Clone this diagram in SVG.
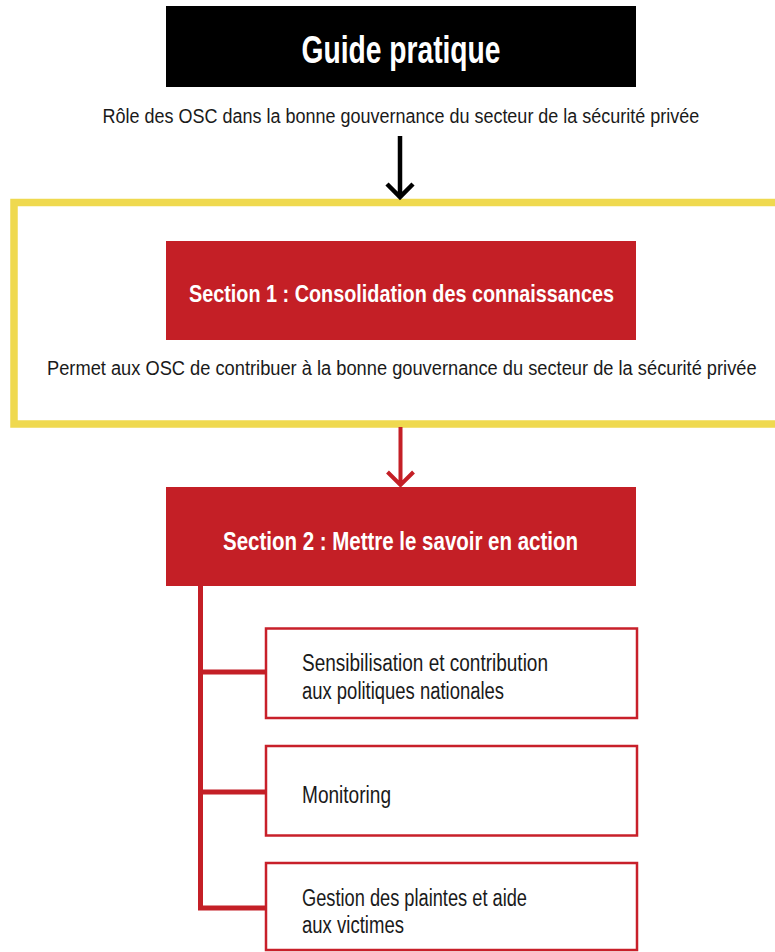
<svg xmlns="http://www.w3.org/2000/svg" width="775" height="952" viewBox="0 0 775 952">
<style>
.t{font-family:"Liberation Sans",Arial,sans-serif;fill:#1a1a1a;}
.b{font-family:"Liberation Sans",Arial,sans-serif;font-weight:bold;fill:#ffffff;}
.red{fill:#C41F26;}
.item{fill:#ffffff;stroke:#C8202A;stroke-width:2.5;}
.conn{fill:none;stroke:#C41F26;stroke-width:5;}
</style>
<rect width="775" height="952" fill="#ffffff"/>
<g id="guide">
<rect x="166" y="6" width="470" height="81" fill="#000000"/>
<text class="b" x="301.5" y="63" font-size="38" textLength="199" lengthAdjust="spacingAndGlyphs">Guide pratique</text>
</g>
<g id="subtitle">
<text class="t" transform="translate(102.5,123) scale(0.8,1)" x="0" y="0" font-size="21" textLength="746" lengthAdjust="spacingAndGlyphs">Rôle des OSC dans la bonne gouvernance du secteur de la sécurité privée</text>
</g>
<g id="frame">
<path d="M775 202.5 H14 V424 H775" fill="none" stroke="#EFD94F" stroke-width="7.5"/>
</g>
<g id="section1">
<rect x="166" y="241" width="470" height="99" class="red"/>
<text class="b" x="189" y="302" font-size="24" textLength="425" lengthAdjust="spacingAndGlyphs">Section 1 : Consolidation des connaissances</text>
</g>
<g id="permet">
<text class="t" transform="translate(47,375) scale(0.8,1)" x="0" y="0" font-size="21" textLength="887" lengthAdjust="spacingAndGlyphs">Permet aux OSC de contribuer à la bonne gouvernance du secteur de la sécurité privée</text>
</g>
<g id="section2">
<rect x="166" y="487" width="470" height="99" class="red"/>
<text class="b" x="223" y="550" font-size="25" textLength="355" lengthAdjust="spacingAndGlyphs">Section 2 : Mettre le savoir en action</text>
</g>
<g id="item1">
<rect x="266" y="628.5" width="371" height="89.5" class="item"/>
<text class="t" x="302" y="671" font-size="23" textLength="246" lengthAdjust="spacingAndGlyphs">Sensibilisation et contribution</text>
<text class="t" x="302" y="699" font-size="23" textLength="202" lengthAdjust="spacingAndGlyphs">aux politiques nationales</text>
</g>
<g id="item2">
<rect x="266" y="746" width="371" height="89.5" class="item"/>
<text class="t" x="302" y="803" font-size="23" textLength="89" lengthAdjust="spacingAndGlyphs">Monitoring</text>
</g>
<g id="item3">
<rect x="266" y="863" width="371" height="87" class="item"/>
<text class="t" x="302" y="906" font-size="23" textLength="225" lengthAdjust="spacingAndGlyphs">Gestion des plaintes et aide</text>
<text class="t" x="302" y="933" font-size="23" textLength="102" lengthAdjust="spacingAndGlyphs">aux victimes</text>
</g>
<g id="connectors">
<path d="M400 136 V197 M387 184 L400 197 L413 184" fill="none" stroke="#000000" stroke-width="4.5"/>
<path d="M400.5 427 V485 M387.5 472 L400.5 485 L413.5 472" fill="none" stroke="#C41F26" stroke-width="4"/>
<path class="conn" d="M200.5 586 V908 H266 M200.5 672 H266 M200.5 792 H266"/>
</g>
</svg>
